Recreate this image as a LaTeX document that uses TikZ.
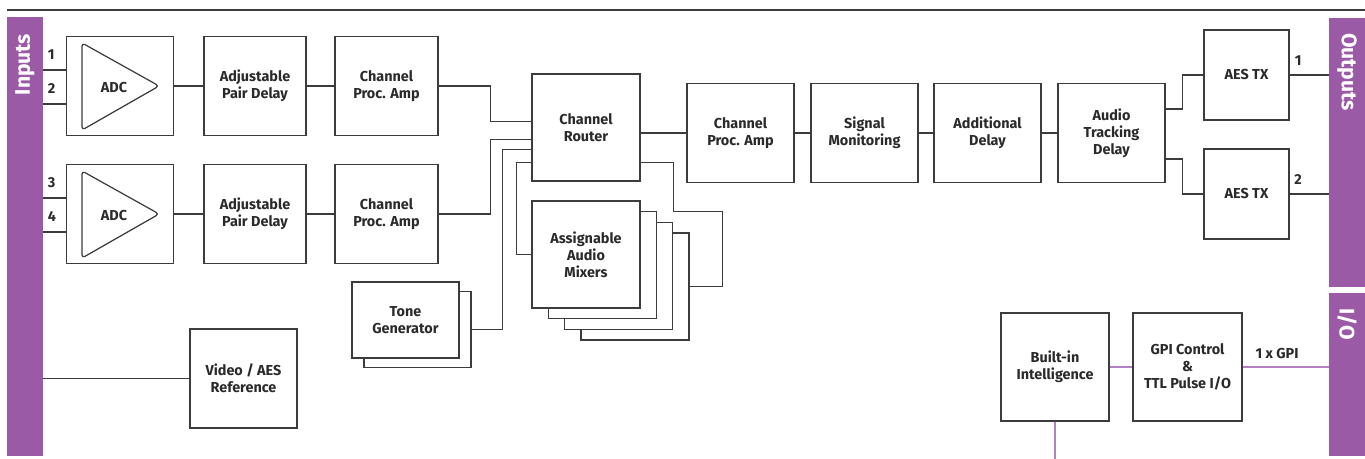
\documentclass[tikz,border=0pt]{standalone}
\usepackage{fontspec}
\setmainfont{Fira Sans}
\usetikzlibrary{calc}
\definecolor{morado}{HTML}{9B5AA6}
\definecolor{moradoclaro}{HTML}{B482C2}
\definecolor{gris}{HTML}{3C3C3C}
\definecolor{texto}{HTML}{2A2A2A}
\tikzset{
  caja/.style={draw=gris, fill=white, line width=.7pt, inner sep=0pt, align=center,
    text=texto, font=\fontsize{8.2}{9.8}\selectfont\bfseries,
    minimum width=2.14cm, minimum height=1.98cm},
  linea/.style={draw=gris, line width=.7pt},
  lineagpi/.style={draw=moradoclaro, line width=.8pt},
  barra/.style={fill=morado, inner sep=0pt, minimum width=.72cm},
  rotulo/.style={text=white, font=\fontsize{12}{14}\selectfont\bfseries},
  numero/.style={text=texto, inner sep=0pt, font=\fontsize{8.2}{9}\selectfont\bfseries}
}
\begin{document}
\begin{tikzpicture}[x=.02cm,y=-.02cm]
    \useasboundingbox (0,0) rectangle (1365,459);
    \draw[gris, line width=.8pt] (7,10) -- (1365,10);

    \node[barra, minimum height=8.78cm] (entradas) at (25,236.5) {};
    \node[barra, minimum height=5.38cm] (salidas) at (1347,152.5) {};
    \node[barra, minimum height=3.26cm] (io) at (1347,374.5) {};
    \node[rotulo, rotate=90] at (25,64.5) {Inputs};
    \node[rotulo, rotate=-90] at (1347,72) {Outputs};
    \node[rotulo, rotate=-90] at (1347,324) {I/O};

    \foreach \f/\y/\a/\b in {1/86/1/2, 2/214/3/4}{
      \node[caja] (adc\f) at (120,\y) {};
      \draw[linea, rounded corners=2pt]
        ($(adc\f.north west)+(16,7)$) -- ($(adc\f.east)+(-15,0)$)
        -- ($(adc\f.south west)+(16,-6)$) -- cycle;
      \node[caja, draw=none, fill=none, minimum size=0pt] at ($(adc\f.center)+(-6,2)$) {ADC};
      \node[caja, minimum width=2.04cm] (retardo\f) at (255,\y) {Adjustable\\Pair Delay};
      \node[caja, minimum width=2.06cm] (amp\f) at (386.5,\y) {Channel\\Proc. Amp};
      \draw[linea] (adc\f) -- (retardo\f);
      \draw[linea] (retardo\f) -- (amp\f);
      \coordinate (e\a) at ($(adc\f.west)+(0,-16)$);
      \coordinate (e\b) at ($(adc\f.west)+(0,18)$);
      \draw[linea] (entradas.east |- e\a) node[numero, anchor=south west, shift={(4,-10)}] {\a} -- (e\a);
      \draw[linea] (entradas.east |- e\b) node[numero, anchor=south west, shift={(4,-10)}] {\b} -- (e\b);
    }

    \node[caja, minimum width=2.16cm, minimum height=2.14cm] (router) at (586,127.5) {Channel\\Router};
    \foreach \i in {3,2,1}{
      \node[caja, minimum width=2.16cm, minimum height=2.14cm] (mezcla\i) at ({586+16.3*\i},{254.5+10.7*\i}) {};
    }
    \node[caja, minimum width=2.16cm, minimum height=2.14cm] (mezcla) at (586,254.5) {Assignable\\Audio\\Mixers};

    \node[caja, minimum height=1.52cm] (tono2) at (417.5,329.5) {};
    \node[caja, minimum height=1.52cm] (tono) at (405.5,320) {Tone\\Generator};

    \draw[linea] (amp1.east) -| ($(router.north west)+(-41,48)$) -- ++(41,0);
    \draw[linea] (amp2.east) -| ($(router.north west)+(-41,66)$) -- ++(41,0);
    \draw[linea] (tono2.east) -| ($(router.north west)+(-29,76)$) -- ++(29,0);
    \draw[linea] ($(router.north west)+(0,89)$) -- ++(-15,0) |- (mezcla.west);
    \draw[linea] ($(router.north east)+(0,89)$) -- ++(33,0) -- ++(0,49) -- ++(49,0) |- (mezcla3.east);

    \foreach \n/\x/\t in {amp3/740.5/{Channel\\Proc. Amp}, monitor/864.5/{Signal\\Monitoring},
        extra/987.5/{Additional\\Delay}, seguimiento/1111.5/{Audio\\Tracking\\Delay}}{
      \node[caja] (\n) at (\x,133) {\t};
    }
    \draw[linea] (router.east |- amp3.west) -- (amp3.west);
    \draw[linea] (amp3) -- (monitor);
    \draw[linea] (monitor) -- (extra);
    \draw[linea] (extra) -- (seguimiento);

    \node[caja, minimum width=1.7cm, minimum height=1.8cm] (aes1) at (1246.5,75) {AES TX};
    \node[caja, minimum width=1.7cm, minimum height=1.8cm] (aes2) at (1246.5,194) {AES TX};
    \draw[linea] ($(seguimiento.north east)+(0,26)$) -- ++(17,0) |- (aes1.west);
    \draw[linea] ($(seguimiento.north east)+(0,76)$) -- ++(17,0) |- (aes2.west);
    \draw[linea] (aes1.east) -- (aes1.east -| salidas.west) node[numero, pos=.22, anchor=south, shift={(0,-9)}] {1};
    \draw[linea] (aes2.east) -- (aes2.east -| salidas.west) node[numero, pos=.22, anchor=south, shift={(0,-9)}] {2};

    \node[caja] (video) at (243.5,378.5) {Video / AES\\Reference};
    \draw[linea] (entradas.east |- video.west) -- (video.west);

    \node[caja, minimum width=2.16cm, minimum height=2.16cm] (cerebro) at (1055,367) {Built-in\\Intelligence};
    \node[caja, minimum width=2.18cm, minimum height=2.16cm] (gpi) at (1187.5,367) {GPI Control\\\&\\TTL Pulse I/O};
    \draw[lineagpi] (cerebro) -- (gpi);
    \draw[lineagpi] (gpi.east) -- (gpi.east -| io.west) node[numero, pos=.4, anchor=south, shift={(0,-8)}] {1 x GPI};
    \draw[lineagpi] (cerebro.south) -- ++(0,37);
\end{tikzpicture}
\end{document}
